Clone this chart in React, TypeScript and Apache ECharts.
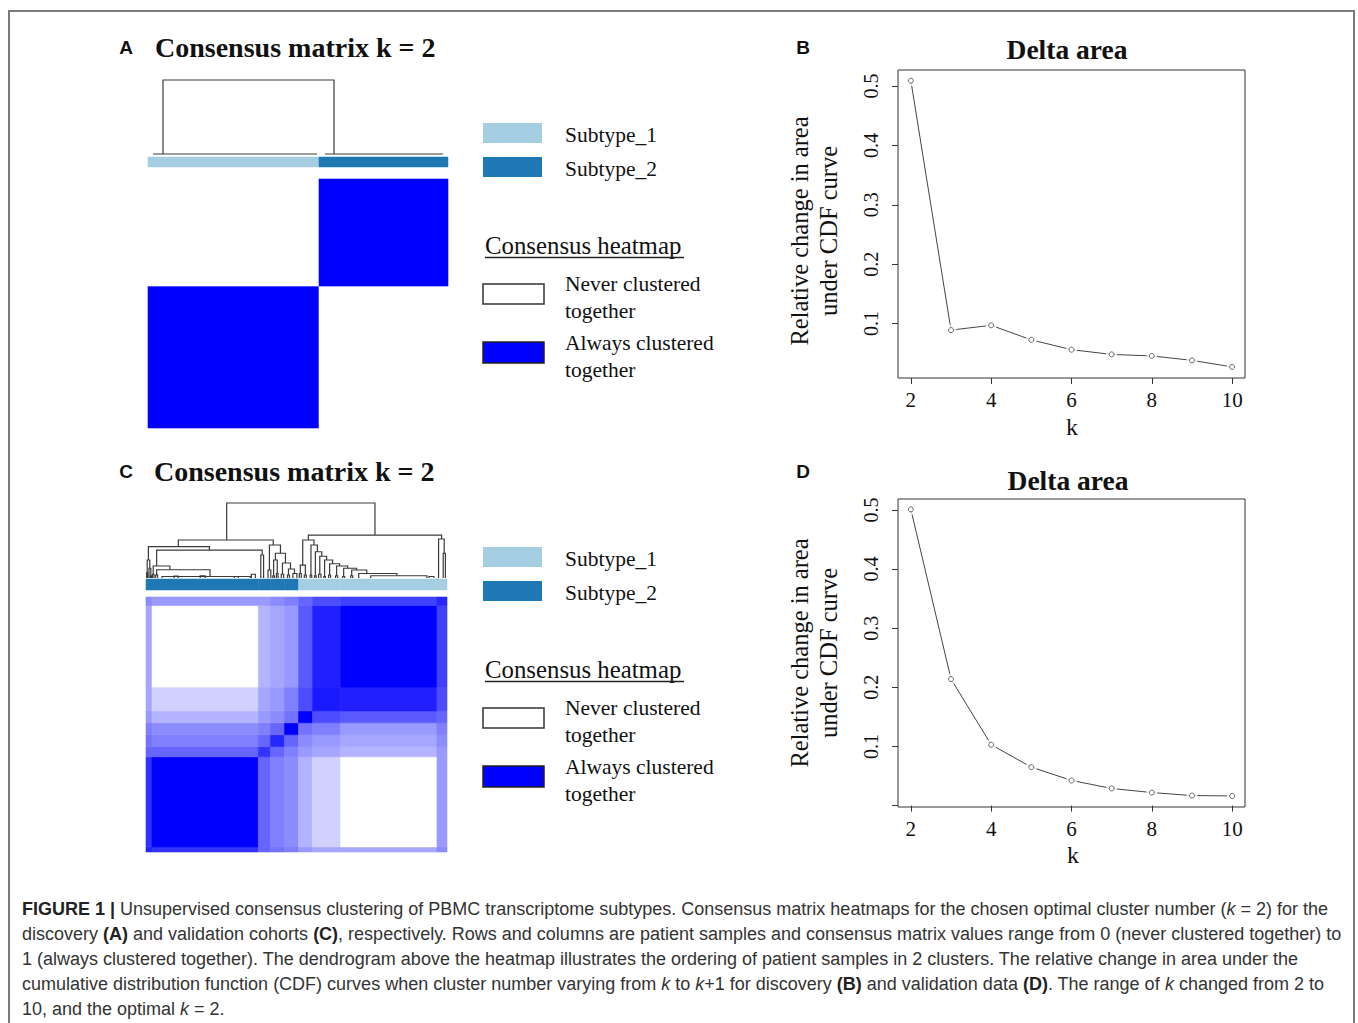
import React, { useEffect, useRef } from 'react';
import * as echarts from 'echarts';

// ---------------- DATA ----------------
const kValues = [2, 3, 4, 5, 6, 7, 8, 9, 10];
const deltaAreaB = [0.509, 0.089, 0.097, 0.0725, 0.056, 0.048, 0.0455, 0.038, 0.027];
const deltaAreaD = [0.501, 0.214, 0.103, 0.065, 0.0425, 0.029, 0.022, 0.017, 0.0163];
const xTickValues = [2, 4, 6, 8, 10];
const yTickValuesB = [0.1, 0.2, 0.3, 0.4, 0.5];
const yTickValuesD = [0, 0.1, 0.2, 0.3, 0.4, 0.5];
const yLabelValues = [0.1, 0.2, 0.3, 0.4, 0.5];

const subtypeNames = ['Subtype_1', 'Subtype_2'];
const subtypeColors = ['#a6cee3', '#1f78b4'];

// Panel A: sample segments (in sample order), their subtype, block consensus values
const segSizesA = [57, 43];
const segSubtypeA = [0, 1];
const blockA = [
  [1, 0],
  [0, 1],
];
// dendrogram merges: [xLeft, hLeft, xRight, hRight, hMerge] in sample units / relative height
const dendroA = [
  [5, 0, 62, 0, 1],
  [1.7, 0, 56.3, 0, 0],
  [59, 0, 98.3, 0, 0],
];

// Panel C
const segSizesC = [3, 53, 6, 7, 7, 7, 14, 48, 5];
const segSubtypeC = [1, 1, 1, 1, 1, 0, 0, 0, 0];
const blockC = [
  [0.85, 0.8, 0.6, 0.55, 0.5, 0.4, 0.35, 0.35, 0.45],
  [0.8, 1.0, 0.6, 0.5, 0.45, 0.3, 0.18, 0.0, 0.4],
  [0.6, 0.6, 0.8, 0.6, 0.5, 0.4, 0.35, 0.3, 0.4],
  [0.55, 0.5, 0.6, 0.85, 0.6, 0.45, 0.4, 0.35, 0.45],
  [0.5, 0.45, 0.5, 0.6, 1.0, 0.55, 0.5, 0.4, 0.5],
  [0.4, 0.3, 0.4, 0.45, 0.55, 1.0, 0.7, 0.65, 0.6],
  [0.35, 0.18, 0.35, 0.4, 0.5, 0.7, 0.9, 0.88, 0.7],
  [0.35, 0.0, 0.3, 0.35, 0.4, 0.65, 0.88, 1.0, 0.75],
  [0.45, 0.4, 0.4, 0.45, 0.5, 0.6, 0.7, 0.75, 0.85],
];
const dendroC = [
  [40.2, 0.507, 114.1, 0.573, 1.0],
  [16.1, 0.418, 63.4, 0.44, 0.507],
  [1.2, 0.24, 31.6, 0.373, 0.418],
  [0.6, 0.07, 1.9, 0.13, 0.24],
  [0.3, 0, 0.9, 0, 0.07],
  [1.5, 0, 2.4, 0.03, 0.13],
  [2.1, 0, 2.7, 0, 0.03],
  [5.3, 0.16, 57.9, 0.307, 0.373],
  [3.6, 0.05, 11.9, 0.11, 0.16],
  [3.2, 0, 4.0, 0, 0.05],
  [5.3, 0.04, 31.9, 0.02, 0.11],
  [4.8, 0, 5.8, 0, 0.04],
  [8.0, 0, 52.0, 0, 0.02],
  [14.0, 0, 16.0, 0, 0.025],
  [27.0, 0, 29.5, 0, 0.03],
  [44.0, 0, 46.0, 0, 0.02],
  [52.5, 0, 54.5, 0, 0.05],
  [57.2, 0, 58.6, 0, 0.307],
  [61.5, 0.107, 67.0, 0.33, 0.44],
  [60.8, 0, 62.2, 0, 0.107],
  [64.5, 0.24, 69.5, 0.2, 0.33],
  [63.6, 0.03, 65.4, 0.06, 0.24],
  [63.2, 0, 64.0, 0, 0.03],
  [65.0, 0, 65.8, 0, 0.06],
  [68.0, 0.05, 72.0, 0.12, 0.2],
  [67.4, 0, 68.6, 0, 0.05],
  [71.0, 0.04, 74.0, 0.06, 0.12],
  [70.5, 0, 71.5, 0, 0.04],
  [73.2, 0, 75.2, 0, 0.06],
  [80.9, 0.507, 147.3, 0.52, 0.573],
  [78.1, 0.173, 83.7, 0.44, 0.507],
  [76.9, 0.06, 79.4, 0.04, 0.173],
  [76.4, 0, 77.4, 0, 0.06],
  [78.9, 0, 79.9, 0, 0.04],
  [82.2, 0.04, 85.4, 0.35, 0.44],
  [84.4, 0.03, 87.6, 0.29, 0.35],
  [86.6, 0.05, 90.0, 0.24, 0.29],
  [89.0, 0.02, 93.0, 0.19, 0.24],
  [91.5, 0.04, 96.5, 0.16, 0.19],
  [95.0, 0.03, 100.5, 0.13, 0.16],
  [98.5, 0.02, 105.0, 0.107, 0.13],
  [102.5, 0.03, 110.0, 0.06, 0.107],
  [106.0, 0, 125.0, 0.03, 0.06],
  [112.0, 0, 140.0, 0, 0.03],
  [81.8, 0, 82.6, 0, 0.04],
  [84.0, 0, 84.8, 0, 0.03],
  [86.0, 0, 87.2, 0, 0.05],
  [88.6, 0, 89.4, 0, 0.02],
  [91.0, 0, 92.0, 0, 0.04],
  [94.5, 0, 95.5, 0, 0.03],
  [98.0, 0, 99.0, 0, 0.02],
  [102.0, 0, 103.0, 0, 0.03],
  [141.0, 0, 143.5, 0, 0.02],
  [145.8, 0, 148.6, 0.33, 0.52],
  [148.1, 0, 149.2, 0, 0.33],
];

const captionLines = [
  '{b|FIGURE 1 |}{n| Unsupervised consensus clustering of PBMC transcriptome subtypes. Consensus matrix heatmaps for the chosen optimal cluster number (}{i|k}{n| = 2) for the}',
  '{n|discovery }{b|(A)}{n| and validation cohorts }{b|(C)}{n|, respectively. Rows and columns are patient samples and consensus matrix values range from 0 (never clustered together) to}',
  '{n|1 (always clustered together). The dendrogram above the heatmap illustrates the ordering of patient samples in 2 clusters. The relative change in area under the}',
  '{n|cumulative distribution function (CDF) curves when cluster number varying from }{i|k}{n| to }{i|k}{n|+1 for discovery }{b|(B)}{n| and validation data }{b|(D)}{n|. The range of }{i|k}{n| changed from 2 to}',
  '{n|10, and the optimal }{i|k}{n| = 2.}',
];

// ---------------- HELPERS ----------------
const SERIF = '"Liberation Serif", "Times New Roman", "DejaVu Serif", serif';
const SANS = '"Liberation Sans", Arial, Helvetica, sans-serif';
const INK = '#111';

function segStarts(sizes: number[]) {
  const s: number[] = [];
  let acc = 0;
  sizes.forEach((n) => {
    s.push(acc);
    acc += n;
  });
  return s;
}

function blockData(sizes: number[], matrix: number[][]) {
  const st = segStarts(sizes);
  const out: number[][] = [];
  for (let i = 0; i < sizes.length; i++) {
    for (let j = 0; j < sizes.length; j++) {
      // x = column segment j, y = row segment i (first sample at the bottom)
      out.push([st[j], st[j] + sizes[j], st[i], st[i] + sizes[i], matrix[i][j]]);
    }
  }
  return out;
}

function barData(sizes: number[], subtypes: number[]) {
  const st = segStarts(sizes);
  return sizes.map((n, i) => [st[i], st[i] + n, subtypes[i]]);
}

const hAxis = (gridIndex: number, min: number, max: number) => ({
  type: 'value',
  gridIndex,
  min,
  max,
  show: false,
});

const heatRender = (params: any, api: any) => {
  const p0 = api.coord([api.value(0), api.value(2)]);
  const p1 = api.coord([api.value(1), api.value(3)]);
  const v = api.value(4);
  const c = Math.round(255 * (1 - v));
  const col = `rgb(${c},${c},255)`;
  return {
    type: 'rect',
    shape: { x: p0[0], y: p1[1], width: p1[0] - p0[0], height: p0[1] - p1[1] },
    style: { fill: col, stroke: col, lineWidth: 0.6 },
  };
};

const barRender = (params: any, api: any) => {
  const p0 = api.coord([api.value(0), 0]);
  const p1 = api.coord([api.value(1), 1]);
  const col = subtypeColors[api.value(2)];
  return {
    type: 'rect',
    shape: { x: p0[0], y: p1[1], width: p1[0] - p0[0], height: p0[1] - p1[1] },
    style: { fill: col, stroke: col, lineWidth: 0.5 },
  };
};

const dendroRender = (params: any, api: any) => {
  const a = api.coord([api.value(0), api.value(1)]);
  const b = api.coord([api.value(0), api.value(4)]);
  const c = api.coord([api.value(2), api.value(4)]);
  const d = api.coord([api.value(2), api.value(3)]);
  return {
    type: 'polyline',
    shape: { points: [a, b, c, d] },
    style: { stroke: '#3a3a3a', lineWidth: 1.2, fill: null },
  };
};

const lineX = (gridIndex: number) => ({
  type: 'value',
  gridIndex,
  min: 1.68,
  max: 10.32,
  axisLine: { show: false },
  splitLine: { show: false },
  axisTick: { show: true, customValues: xTickValues, length: 6, lineStyle: { color: '#333', width: 1 } },
  axisLabel: { customValues: xTickValues, margin: 11, fontSize: 21, fontFamily: SERIF, color: INK },
});

const lineY = (gridIndex: number, min: number, max: number, ticks: number[]) => ({
  type: 'value',
  gridIndex,
  min,
  max,
  axisLine: { show: false },
  splitLine: { show: false },
  axisTick: { show: true, customValues: ticks, length: 6, lineStyle: { color: '#333', width: 1 } },
  axisLabel: {
    customValues: yLabelValues,
    rotate: 90,
    margin: 17,
    fontSize: 20,
    fontFamily: SERIF,
    color: INK,
  },
});

function lineSeries(xi: number, yi: number, values: number[]) {
  const data = kValues.map((k, i) => [k, values[i]]);
  return [
    {
      type: 'line',
      xAxisIndex: xi,
      yAxisIndex: yi,
      data,
      symbol: 'none',
      lineStyle: { color: '#444', width: 1 },
      z: 2,
      silent: true,
    },
    {
      type: 'scatter',
      xAxisIndex: xi,
      yAxisIndex: yi,
      data,
      symbol: 'circle',
      symbolSize: 11,
      itemStyle: { color: '#fff', borderWidth: 0 },
      z: 3,
      silent: true,
    },
    {
      type: 'scatter',
      xAxisIndex: xi,
      yAxisIndex: yi,
      data,
      symbol: 'circle',
      symbolSize: 5,
      itemStyle: { color: '#fff', borderColor: '#444', borderWidth: 1 },
      z: 4,
      silent: true,
    },
  ];
}

function txt(text: string, x: number, y: number, size: number, opts: any = {}) {
  return {
    type: 'text',
    x,
    y,
    rotation: opts.rotation || 0,
    silent: true,
    style: {
      text,
      fontSize: size,
      fontFamily: opts.family || SERIF,
      fontWeight: opts.weight || 'normal',
      fill: opts.fill || INK,
      align: opts.align || 'left',
      verticalAlign: 'middle',
      textAlign: opts.align || 'left',
      textVerticalAlign: 'middle',
    },
  };
}

function legendEls(dy: number) {
  return [
    { type: 'rect', silent: true, shape: { x: 483, y: 123 + dy, width: 59, height: 20 }, style: { fill: subtypeColors[0] } },
    txt(subtypeNames[0], 565, 135 + dy, 21.5),
    { type: 'rect', silent: true, shape: { x: 483, y: 157 + dy, width: 59, height: 20 }, style: { fill: subtypeColors[1] } },
    txt(subtypeNames[1], 565, 169 + dy, 21.5),
    txt('Consensus heatmap', 485, 245 + dy, 24.8),
    { type: 'line', silent: true, shape: { x1: 485, y1: 257.5 + dy, x2: 684, y2: 257.5 + dy }, style: { stroke: '#222', lineWidth: 1.3 } },
    { type: 'rect', silent: true, shape: { x: 483, y: 284 + dy, width: 61, height: 20 }, style: { fill: '#fff', stroke: '#333', lineWidth: 1.5 } },
    txt('Never clustered', 565, 284 + dy, 21.5),
    txt('together', 565, 311 + dy, 21.5),
    { type: 'rect', silent: true, shape: { x: 483, y: 342 + dy, width: 61, height: 21 }, style: { fill: '#0000ff', stroke: '#222', lineWidth: 1.5 } },
    txt('Always clustered', 565, 343 + dy, 21.5),
    txt('together', 565, 370 + dy, 21.5),
  ];
}

function buildOption() {
  const CAP = 18;
  const capStyle = { fontSize: CAP, fontFamily: SANS, fill: '#333' };
  const captionEls = captionLines.map((line, i) => ({
    type: 'text',
    x: 22,
    y: 909 + i * 25,
    silent: true,
    style: {
      text: line,
      fontSize: CAP,
      fontFamily: SANS,
      fill: '#333',
      verticalAlign: 'middle',
      textVerticalAlign: 'middle',
      rich: {
        n: { ...capStyle },
        b: { ...capStyle, fontWeight: 'bold', fill: '#222' },
        i: { ...capStyle, fontStyle: 'italic' },
      },
    },
  }));

  const graphics: any[] = [
    { type: 'rect', silent: true, shape: { x: 9, y: 11, width: 1345, height: 1040 }, style: { fill: 'none', stroke: '#7a7a7a', lineWidth: 2 } },
    txt('A', 126, 47, 19, { family: SANS, weight: 'bold', align: 'center' }),
    txt('Consensus matrix k = 2', 155, 47, 28, { weight: 'bold' }),
    txt('C', 126, 471, 19, { family: SANS, weight: 'bold', align: 'center' }),
    txt('Consensus matrix k = 2', 154, 471, 28, { weight: 'bold' }),
    txt('B', 803, 47, 19, { family: SANS, weight: 'bold', align: 'center' }),
    txt('D', 803, 471, 19, { family: SANS, weight: 'bold', align: 'center' }),
    txt('Delta area', 1067, 49, 27.5, { weight: 'bold', align: 'center' }),
    txt('Delta area', 1068, 480, 27.5, { weight: 'bold', align: 'center' }),
    txt('Relative change in area', 799, 231, 24.5, { align: 'center', rotation: Math.PI / 2 }),
    txt('under CDF curve', 828, 231, 24.5, { align: 'center', rotation: Math.PI / 2 }),
    txt('Relative change in area', 799, 653, 24.5, { align: 'center', rotation: Math.PI / 2 }),
    txt('under CDF curve', 828, 653, 24.5, { align: 'center', rotation: Math.PI / 2 }),
    txt('k', 1072, 427, 24, { align: 'center' }),
    txt('k', 1073, 855, 24, { align: 'center' }),
    ...legendEls(0),
    ...legendEls(424),
    ...captionEls,
  ];

  const noBounds = { outerBoundsMode: 'none', containLabel: false };

  return {
    animation: false,
    backgroundColor: '#ffffff',
    grid: [
      { left: 148, top: 80, width: 300, height: 74, ...noBounds },
      { left: 148, top: 157, width: 300, height: 10, ...noBounds },
      { left: 148, top: 179, width: 300, height: 249, ...noBounds },
      { left: 146, top: 503, width: 301, height: 75, ...noBounds },
      { left: 146, top: 579, width: 301, height: 11, ...noBounds },
      { left: 146, top: 597, width: 301, height: 255, ...noBounds },
      { left: 898, top: 70, width: 347, height: 308, show: true, borderColor: '#333', borderWidth: 1, backgroundColor: 'transparent', ...noBounds },
      { left: 898, top: 499, width: 347, height: 308, show: true, borderColor: '#333', borderWidth: 1, backgroundColor: 'transparent', ...noBounds },
    ],
    xAxis: [
      hAxis(0, 0, 100),
      hAxis(1, 0, 100),
      hAxis(2, 0, 100),
      hAxis(3, 0, 150),
      hAxis(4, 0, 150),
      hAxis(5, 0, 150),
      lineX(6),
      lineX(7),
    ],
    yAxis: [
      hAxis(0, 0, 1),
      hAxis(1, 0, 1),
      hAxis(2, 0, 100),
      hAxis(3, 0, 1),
      hAxis(4, 0, 1),
      hAxis(5, 0, 150),
      lineY(6, 0.0083, 0.527, yTickValuesB),
      lineY(7, -0.0024, 0.5186, yTickValuesD),
    ],
    series: [
      { type: 'custom', xAxisIndex: 0, yAxisIndex: 0, data: dendroA, renderItem: dendroRender, silent: true },
      { type: 'custom', xAxisIndex: 1, yAxisIndex: 1, data: barData(segSizesA, segSubtypeA), renderItem: barRender, silent: true },
      { type: 'custom', xAxisIndex: 2, yAxisIndex: 2, data: blockData(segSizesA, blockA), renderItem: heatRender, silent: true },
      { type: 'custom', xAxisIndex: 3, yAxisIndex: 3, data: dendroC, renderItem: dendroRender, silent: true },
      { type: 'custom', xAxisIndex: 4, yAxisIndex: 4, data: barData(segSizesC, segSubtypeC), renderItem: barRender, silent: true },
      { type: 'custom', xAxisIndex: 5, yAxisIndex: 5, data: blockData(segSizesC, blockC), renderItem: heatRender, silent: true },
      ...lineSeries(6, 6, deltaAreaB),
      ...lineSeries(7, 7, deltaAreaD),
    ],
    graphic: { elements: graphics },
  };
}

export default function App() {
  const ref = useRef<HTMLDivElement>(null);
  useEffect(() => {
    if (!ref.current) return;
    const chart = echarts.init(ref.current, null, { renderer: 'svg' });
    chart.setOption(buildOption() as any);
    return () => chart.dispose();
  }, []);
  return (
    <div
      ref={ref}
      style={{ position: 'fixed', left: 0, top: 0, width: 1358, height: 1023, background: '#fff' }}
    />
  );
}
